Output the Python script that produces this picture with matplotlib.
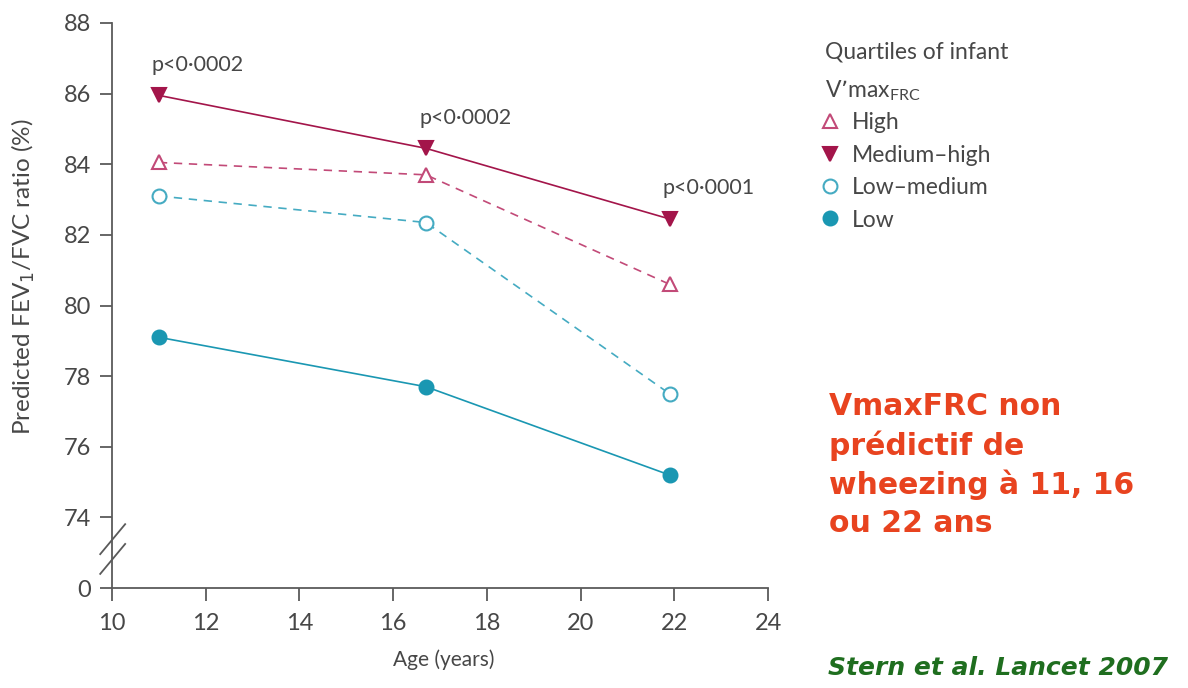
"""Predicted FEV1/FVC ratio by quartile of infant V'maxFRC (Stern et al.)."""
import matplotlib
matplotlib.use("Agg")
import matplotlib.pyplot as plt
from matplotlib.lines import Line2D

plt.rcParams['font.family'] = ['Lato', 'DejaVu Sans']

age = [11, 16.7, 21.9]
groups = ["High", "Medium\u2013high", "Low\u2013medium", "Low"]
high = [84.05, 83.7, 80.6]
medium_high = [85.95, 84.45, 82.45]
low_medium = [83.1, 82.35, 77.5]
low = [79.1, 77.7, 75.2]
pvals = ["p<0\u00b70002", "p<0\u00b70002", "p<0\u00b70001"]

ytick_pos = [72, 74, 76, 78, 80, 82, 84, 86, 88]
ytick_lab = ["0", "74", "76", "78", "80", "82", "84", "86", "88"]
xticks = [10, 12, 14, 16, 18, 20, 22, 24]

_pink = "#c24a78"
_crimson = "#a3154a"
_teal_l = "#45abc2"
_teal = "#1a97b2"
_grey = "#5a5a5a"
_txt = "#474747"

styles = [
    dict(color=_pink, ls=(0, (5, 4)), marker="^", mfc="white", mec=_pink),
    dict(color=_crimson, ls="-", marker="v", mfc=_crimson, mec=_crimson),
    dict(color=_teal_l, ls=(0, (5, 4)), marker="o", mfc="white", mec=_teal_l),
    dict(color=_teal, ls="-", marker="o", mfc=_teal, mec=_teal),
]

fig = plt.figure(figsize=(11.88, 6.88), dpi=100)
ax = fig.add_axes([0.0943, 0.1453, 0.5522, 0.8213])

for vals, st in zip([high, medium_high, low_medium, low], styles):
    ax.plot(age, vals, lw=1.2, ms=10, mew=1.5, **st)

ax.set_xlim(10, 24)
ax.set_ylim(72, 88)
ax.set_xticks(xticks)
ax.set_yticks(ytick_pos)
ax.set_yticklabels(ytick_lab)
ax.tick_params(colors=_grey, labelsize=17, length=9, width=1.3,
               labelcolor=_txt)
ax.tick_params(axis="y", pad=6)
ax.tick_params(axis="x", pad=9)
for s in ["top", "right"]:
    ax.spines[s].set_visible(False)
for s in ["left", "bottom"]:
    ax.spines[s].set_color(_grey)
    ax.spines[s].set_linewidth(1.3)

# axis break marks
for dy in [0.0, 0.035]:
    ax.plot([-0.018, 0.02], [0.06 - dy, 0.113 - dy], transform=ax.transAxes,
            color=_grey, lw=1.3, clip_on=False)

# p-values above the medium-high points
for x, y, p in zip(age, medium_high, pvals):
    ax.annotate(p, (x, y), xytext=(-5, 22), textcoords="offset points",
                fontsize=15.5, color=_txt, ha="left", va="center")

ax.set_xlabel("Age (years)", fontsize=15, color=_txt)
ax.xaxis.set_label_coords(0.505, -0.108)
ax.set_ylabel("Predicted FEV$_1$/FVC ratio (%)", fontsize=17.5, color=_txt)
ax.yaxis.set_label_coords(-0.115, 0.55)

# legend: title as two text lines, entries as marker-only handles
fig.text(0.6945, 1 - 58 / 688, "Quartiles of infant", fontsize=16.5,
         color=_txt, va="baseline")
fig.text(0.6945, 1 - 97 / 688, "V\u2019max$_{\\mathregular{FRC}}$",
         fontsize=16.5, color=_txt, va="baseline")
handles = [Line2D([], [], ls="none", marker=st["marker"], mfc=st["mfc"],
                  mec=st["mec"], ms=10, mew=1.5) for st in styles]
leg = fig.legend(handles, groups, loc="upper left",
                 bbox_to_anchor=(0.691, 0.837), frameon=False, fontsize=16.5,
                 handlelength=0.8, handletextpad=0.57, labelspacing=0.5,
                 borderpad=0, borderaxespad=0)
for t in leg.get_texts():
    t.set_color(_txt)

fig.text(0.698, 0.43, "VmaxFRC non\npr\u00e9dictif de\nwheezing \u00e0 11, 16\nou 22 ans",
         fontsize=21.5, fontweight="bold", color="#e8431f", ha="left",
         va="top", linespacing=1.37, family="DejaVu Sans")
fig.text(0.697, 0.019, "Stern et al. Lancet 2007", fontsize=18,
         fontweight="bold", style="italic", color="#1f6e1f", ha="left",
         va="baseline", family="DejaVu Sans")

fig.savefig("out.png", dpi=100)
